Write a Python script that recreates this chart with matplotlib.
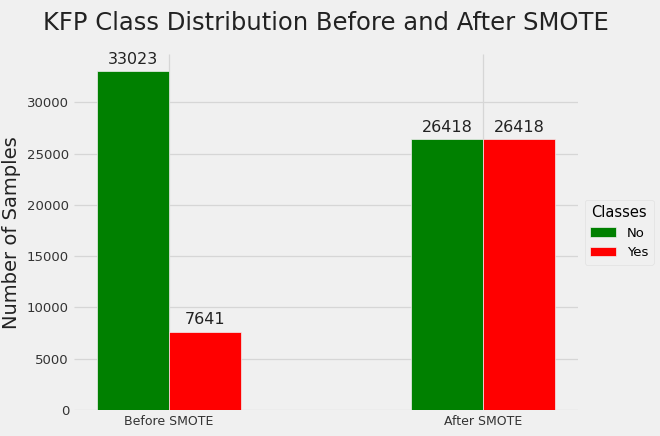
import matplotlib
matplotlib.use("Agg")
import matplotlib.pyplot as plt
import numpy as np

stages = ["Before SMOTE", "After SMOTE"]
classes = ["No", "Yes"]
no_counts = [33023, 26418]
yes_counts = [7641, 26418]
colors = ["green", "red"]

plt.style.use("fivethirtyeight")
fig = plt.figure(figsize=(6.6, 4.36), dpi=100)
fig.patch.set_facecolor("#f0f0f0")
ax = fig.add_axes([0.112, 0.06, 0.764, 0.815])
ax.set_facecolor("#f0f0f0")

x = np.arange(len(stages))
w = 0.229
b1 = ax.bar(x - w/2, no_counts, w, color=colors[0], label=classes[0], edgecolor="#f0f0f0", linewidth=0.5, zorder=3)
b2 = ax.bar(x + w/2, yes_counts, w, color=colors[1], label=classes[1], edgecolor="#f0f0f0", linewidth=0.5, zorder=3)
for bars in (b1, b2):
    for r in bars:
        ax.annotate(f"{int(r.get_height())}", (r.get_x() + r.get_width()/2, r.get_height()),
                    xytext=(0, 3), textcoords="offset points", ha="center", va="bottom",
                    fontsize=11.5, color="#222222")

ax.set_xticks(x)
ax.set_xticklabels(stages, fontsize=9, color="#333333")
ax.tick_params(axis="y", labelsize=9.5, labelcolor="#333333")
ax.set_ylabel("Number of Samples", fontsize=14, color="#222222")
ax.set_title("KFP Class Distribution Before and After SMOTE", fontsize=17.5, pad=18, color="#222222")
ax.grid(True, color="#d6d6d6", linewidth=0.9, zorder=0)
for s in ax.spines.values():
    s.set_visible(False)
leg = ax.legend(title="Classes", loc="center left", bbox_to_anchor=(1.0, 0.5), fontsize=9.5,
                title_fontsize=10.5, frameon=True)
leg.get_frame().set_facecolor("#f0f0f0")
leg.get_frame().set_edgecolor("#dddddd")
fig.savefig("out.png", dpi=100, facecolor=fig.get_facecolor())
